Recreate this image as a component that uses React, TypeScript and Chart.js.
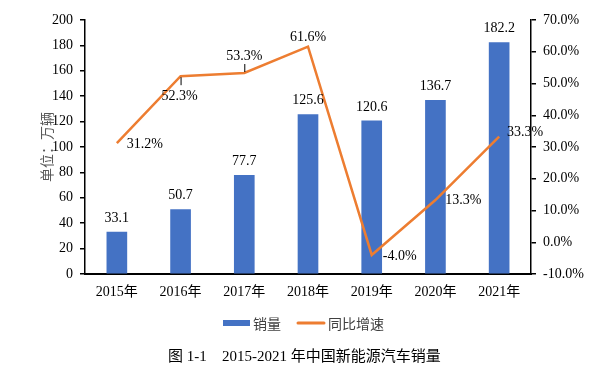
import React, { useEffect, useRef } from 'react';
import { Chart, registerables } from 'chart.js';

Chart.register(...registerables);

const categories = ['2015年', '2016年', '2017年', '2018年', '2019年', '2020年', '2021年'];
const sales = [33.1, 50.7, 77.7, 125.6, 120.6, 136.7, 182.2];
const growth = [31.2, 52.3, 53.3, 61.6, -4.0, 13.3, 33.3];
const seriesNames = ['销量', '同比增速'];
const yTitle = '单位：万辆';
const captionLabel = '图 1-1';
const captionText = '2015-2021 年中国新能源汽车销量';

// label placement styles for the line labels (offset of label centre from the point)
const lineLabelStyle = [
  { dx: 28, dy: 1, leader: 0 },
  { dx: -1, dy: 20, leader: 1 },
  { dx: 0, dy: -17, leader: -1 },
  { dx: 0, dy: -9, leader: 0 },
  { dx: 28, dy: 1, leader: 0 },
  { dx: 28, dy: 0, leader: 0 },
  { dx: 26, dy: -4, leader: 0 },
];

const SERIF = "'Liberation Serif', 'Noto Sans CJK SC', serif";
const SANS = "'Noto Sans CJK SC', 'Liberation Sans', sans-serif";
const BLUE = '#4472C4';
const ORANGE = '#ED7D31';

const labelPlugin = {
  id: 'customLabels',
  afterDatasetsDraw(chart: any) {
    const ctx = chart.ctx;
    ctx.save();
    ctx.font = `14px ${SERIF}`;
    ctx.fillStyle = '#000';
    ctx.textAlign = 'center';
    ctx.textBaseline = 'middle';
    const barMeta = chart.getDatasetMeta(0);
    barMeta.data.forEach((el: any, i: number) => {
      ctx.fillText(sales[i].toFixed(1), el.x, el.y - 14);
    });
    const lineMeta = chart.getDatasetMeta(1);
    lineMeta.data.forEach((el: any, i: number) => {
      const s = lineLabelStyle[i];
      if (s.leader !== 0) {
        ctx.strokeStyle = '#000';
        ctx.lineWidth = 1;
        ctx.beginPath();
        ctx.moveTo(el.x + 0.5, el.y + s.leader * 1);
        ctx.lineTo(el.x + 0.5, el.y + s.leader * 9);
        ctx.stroke();
      }
      ctx.fillText(growth[i].toFixed(1) + '%', el.x + s.dx, el.y + s.dy);
    });
    ctx.restore();
  },
  afterDraw(chart: any) {
    const ctx = chart.ctx;
    ctx.save();
    // y-axis title
    ctx.fillStyle = '#595959';
    ctx.font = `14px ${SANS}`;
    ctx.textAlign = 'center';
    ctx.textBaseline = 'middle';
    const ca = chart.chartArea;
    ctx.translate(47, (ca.top + ca.bottom) / 2);
    ctx.rotate(-Math.PI / 2);
    ctx.fillText(yTitle, 0, 0);
    ctx.restore();

    ctx.save();
    // legend
    const ds = chart.data.datasets;
    ctx.font = `14px ${SANS}`;
    ctx.textBaseline = 'middle';
    ctx.textAlign = 'left';
    ctx.fillStyle = ds[0].backgroundColor;
    ctx.fillRect(223, 320, 27, 6);
    ctx.fillStyle = '#404040';
    ctx.fillText(ds[0].label, 253, 324);
    ctx.strokeStyle = ds[1].borderColor;
    ctx.lineWidth = 3;
    ctx.lineCap = 'round';
    ctx.beginPath();
    ctx.moveTo(298, 323);
    ctx.lineTo(324, 323);
    ctx.stroke();
    ctx.fillText(ds[1].label, 328, 324);

    // caption
    ctx.fillStyle = '#000';
    ctx.font = `15px ${SERIF}`;
    ctx.fillText(captionLabel, 168, 357);
    ctx.fillText(captionText, 222, 357);
    ctx.restore();
  },
};

export default function App() {
  const ref = useRef<HTMLCanvasElement | null>(null);

  useEffect(() => {
    if (!ref.current) return;
    const tickFont = { family: SERIF, size: 14 };
    const chart = new Chart(ref.current, {
      type: 'bar',
      data: {
        labels: categories,
        datasets: [
          {
            type: 'bar',
            label: seriesNames[0],
            data: sales,
            backgroundColor: BLUE,
            borderWidth: 0,
            barThickness: 20,
            yAxisID: 'y',
            order: 1,
          } as any,
          {
            type: 'line',
            label: seriesNames[1],
            data: growth,
            borderColor: ORANGE,
            backgroundColor: ORANGE,
            borderWidth: 2.5,
            pointRadius: 0,
            tension: 0,
            yAxisID: 'y1',
            order: 0,
          } as any,
        ],
      },
      options: {
        responsive: false,
        animation: false,
        layout: { padding: { top: 20, left: 0, right: 0, bottom: 0 } },
        plugins: {
          legend: { display: false },
          tooltip: { enabled: false },
        },
        scales: {
          x: {
            offset: true,
            grid: { display: false, drawTicks: false },
            border: { display: true, color: '#000', width: 2 },
            ticks: { font: tickFont, color: '#000', padding: 10, maxRotation: 0 },
            afterFit: (s: any) => {
              s.height = 95;
            },
          },
          y: {
            position: 'left',
            min: 0,
            max: 200,
            ticks: { stepSize: 20, font: tickFont, color: '#000', padding: 7 },
            grid: { drawOnChartArea: false, drawTicks: true, tickLength: 5, color: '#000', lineWidth: 1.5 },
            border: { display: true, color: '#000', width: 1.5 },
            afterFit: (s: any) => {
              s.width = 85;
            },
          },
          y1: {
            position: 'right',
            min: -10,
            max: 70,
            ticks: {
              stepSize: 10,
              font: tickFont,
              color: '#000',
              padding: 7,
              callback: (v: any) => Number(v).toFixed(1) + '%',
            },
            grid: { drawOnChartArea: false, drawTicks: true, tickLength: 5, color: '#000', lineWidth: 1.5 },
            border: { display: true, color: '#000', width: 1.5 },
            afterFit: (s: any) => {
              s.width = 84;
            },
          },
        },
      },
      plugins: [labelPlugin],
    });
    return () => chart.destroy();
  }, []);

  return (
    <div style={{ position: 'absolute', left: 0, top: 0, width: 615, height: 369, background: '#fff' }}>
      <canvas ref={ref} width={615} height={369} />
    </div>
  );
}
